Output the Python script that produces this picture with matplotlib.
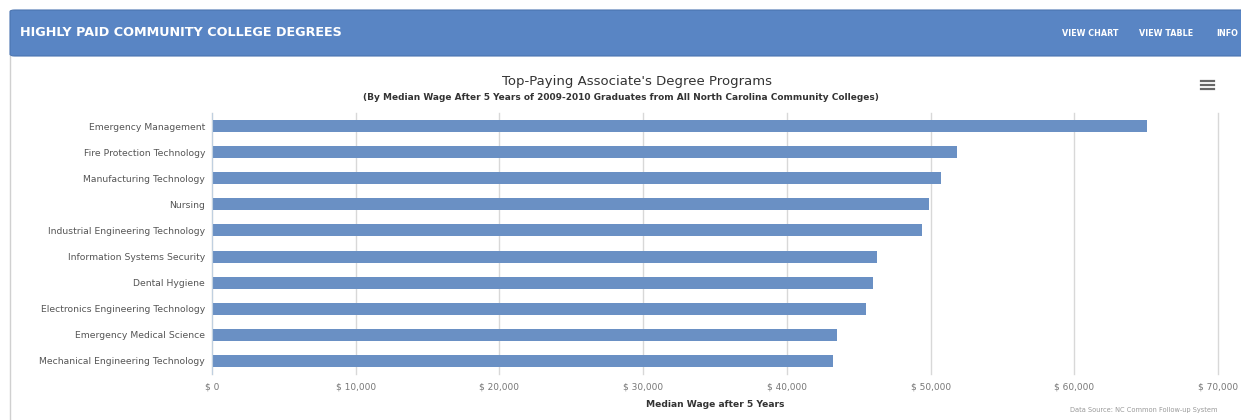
import numpy as np
from matplotlib import pyplot as plt
from matplotlib.patches import FancyBboxPatch
from matplotlib.ticker import FuncFormatter

plt.rcParams['font.family'] = 'DejaVu Sans'

programs = [
    'Emergency Management',
    'Fire Protection Technology',
    'Manufacturing Technology',
    'Nursing',
    'Industrial Engineering Technology',
    'Information Systems Security',
    'Dental Hygiene',
    'Electronics Engineering Technology',
    'Emergency Medical Science',
    'Mechanical Engineering Technology',
]
median_wage = [65050, 51870, 50720, 49900, 49370, 46260, 46020, 45530, 43490, 43240]
x_ticks = [0, 10000, 20000, 30000, 40000, 50000, 60000, 70000]

W, H = 1241, 420
fig = plt.figure(figsize=(W / 100, H / 100), dpi=100)

# Header band
header = FancyBboxPatch((10 / W, 1 - 56 / H), 1.2, 46 / H,
                        boxstyle='round,pad=0,rounding_size=0.004',
                        transform=fig.transFigure, facecolor='#5985c4',
                        edgecolor='#4a74b0', linewidth=0.8, zorder=0)
fig.patches.append(header)
# Panel left border
fig.add_artist(plt.Line2D([10 / W, 10 / W], [0, 1 - 56 / H], transform=fig.transFigure,
                          color='#d0d0d0', linewidth=1))

fig.text(20 / W, 1 - 33 / H, 'HIGHLY PAID COMMUNITY COLLEGE DEGREES', color='white',
         fontsize=9.2, fontweight='bold', va='center', ha='left')
for label, xr in [('VIEW CHART', 1118), ('VIEW TABLE', 1193), ('INFO', 1238)]:
    fig.text(xr / W, 1 - 33 / H, label, color='white', fontsize=5.8,
             fontweight='bold', va='center', ha='right')

# Chart titles
fig.text(637 / W, 1 - 82 / H, "Top-Paying Associate's Degree Programs", color='#333333',
         fontsize=9.5, ha='center', va='center')
fig.text(621 / W, 1 - 97 / H,
         '(By Median Wage After 5 Years of 2009-2010 Graduates from All North Carolina Community Colleges)',
         color='#333333', fontsize=6.5, fontweight='bold', ha='center', va='center')

# Hamburger menu icon
for dy in (81, 85, 89):
    fig.add_artist(plt.Line2D([1201 / W, 1214 / W], [1 - dy / H, 1 - dy / H],
                              transform=fig.transFigure, color='#666666', linewidth=1.6))

ax = fig.add_axes([212 / W, 1 - 374 / H, 1006 / W, 261 / H])
y = np.arange(len(programs))
ax.barh(y, median_wage, height=0.46, color='#6a90c4', zorder=2)
ax.set_ylim(len(programs) - 0.5, -0.5)
ax.set_xlim(0, 70000)
ax.set_xticks(x_ticks)
ax.xaxis.set_major_formatter(FuncFormatter(lambda v, p: '$ {:,.0f}'.format(v)))
ax.set_yticks(y)
ax.set_yticklabels(programs)
ax.grid(axis='x', color='#d8d8d8', linewidth=1, zorder=0)
for gl in ax.xaxis.get_gridlines():
    gl.set_clip_on(False)
for s in ['top', 'right', 'bottom']:
    ax.spines[s].set_visible(False)
ax.spines['left'].set_color('#c0d0e0')
ax.tick_params(axis='y', length=0, pad=5, labelsize=6.7, labelcolor='#555555')
ax.tick_params(axis='x', length=0, pad=6, labelsize=6.5, labelcolor='#777777')
ax.set_xlabel('Median Wage after 5 Years', fontsize=6.6, fontweight='bold',
              color='#333333', labelpad=6)

fig.text(1218 / W, 1 - 410 / H, 'Data Source: NC Common Follow-up System',
         color='#999999', fontsize=4.8, ha='right', va='center')

fig.savefig('out.png', dpi=100)
